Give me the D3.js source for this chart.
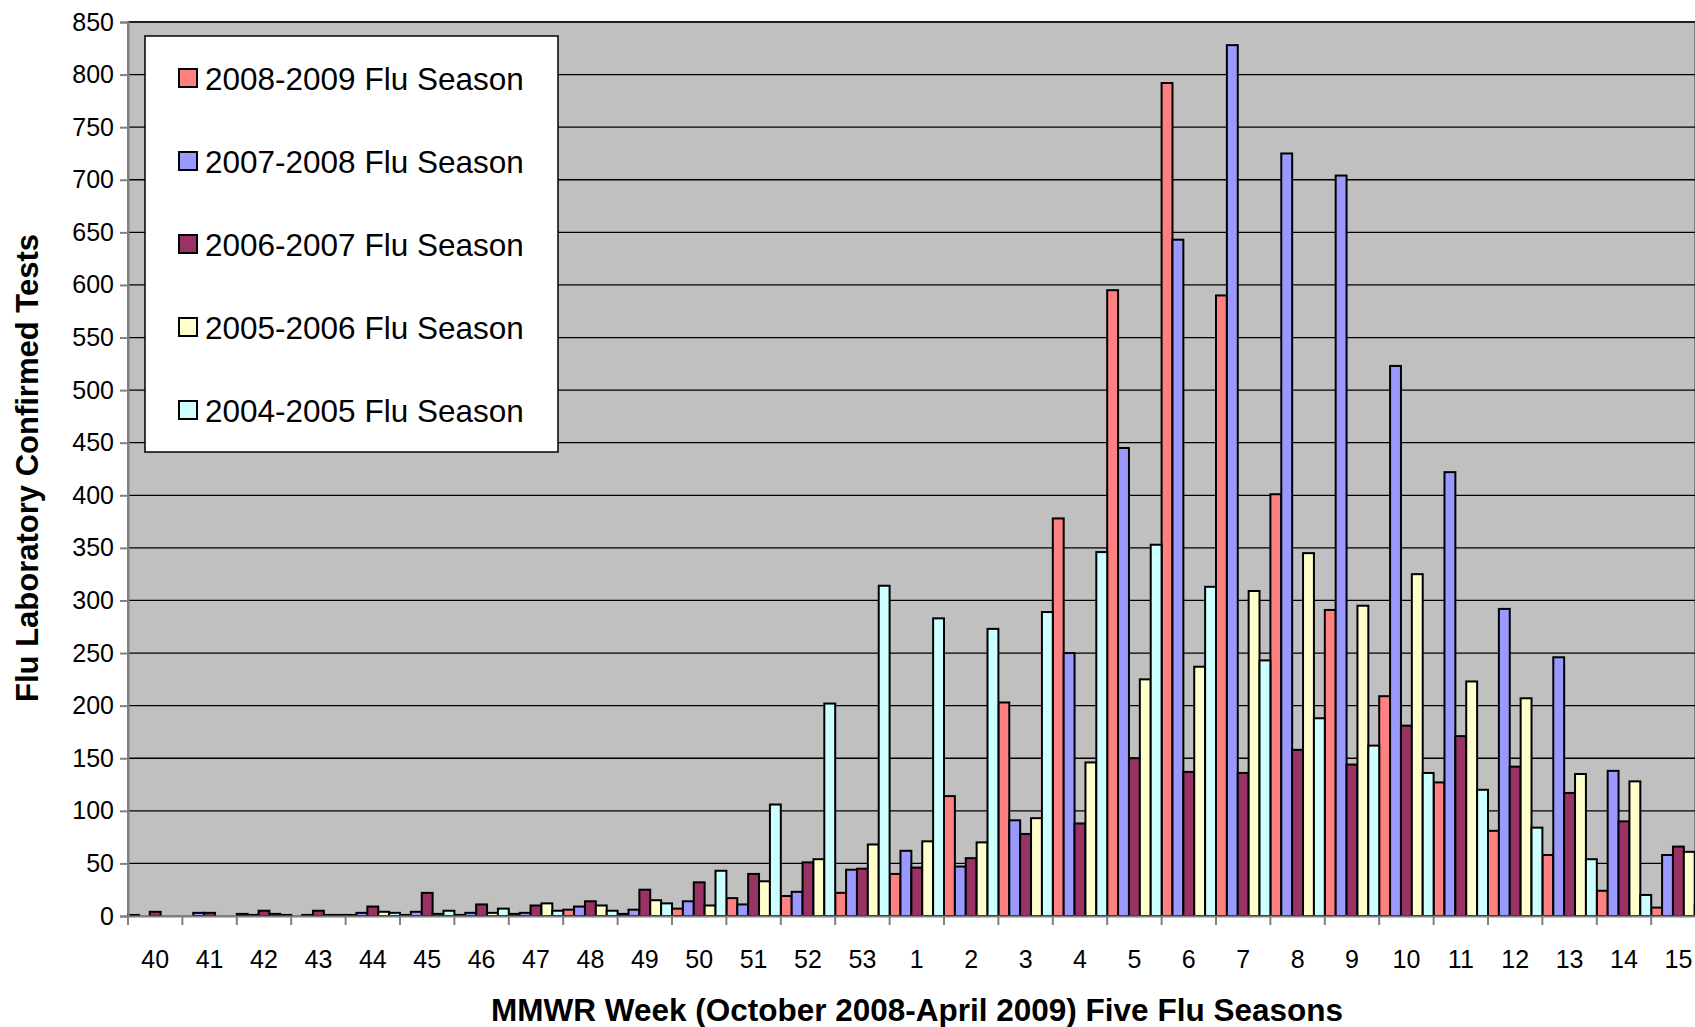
<!DOCTYPE html>
<html><head><meta charset="utf-8">
<script src="https://cdn.jsdelivr.net/npm/d3@7"></script>
<style>body{margin:0;background:#fff;overflow:hidden}text{font-family:"Liberation Sans",Arial,sans-serif}</style>
</head><body>
<script>
const weeks = ["40","41","42","43","44","45","46","47","48","49","50","51","52","53","1","2","3","4","5","6","7","8","9","10","11","12","13","14","15"]
const seasons = ["2008-2009 Flu Season","2007-2008 Flu Season","2006-2007 Flu Season","2005-2006 Flu Season","2004-2005 Flu Season"]
const colors = ["#ff8080","#9999ff","#993366","#ffffcc","#ccffff"]
const s0809 = [1,0,2,0,1,1,1,2,6,2,7,17,19,22,40,114,203,378,595,792,590,401,291,209,127,81,58,24,8]
const s0708 = [0,3,1,1,3,4,3,3,9,6,14,11,23,44,62,47,91,250,445,643,828,725,704,523,422,292,246,138,58]
const s0607 = [4,3,5,5,9,22,11,10,14,25,32,40,51,45,46,55,78,88,150,137,136,158,144,181,171,142,117,90,66]
const s0506 = [0,0,2,1,4,2,3,12,10,15,10,33,54,68,71,70,93,146,225,237,309,345,295,325,223,207,135,128,61]
const s0405 = [0,0,1,1,3,5,7,5,5,12,43,106,202,314,283,273,289,346,353,313,243,188,162,136,120,84,54,20,10]
const series = [s0809, s0708, s0607, s0506, s0405]

const W = 1695, H = 1027
const pLeft = 128, pTop = 22, pBottom = 916, band = 54.4
const svg = d3.select("body").append("svg").attr("width", W).attr("height", H)

const x = d3.scaleBand().domain(weeks).range([pLeft, pLeft + band * weeks.length]).padding(0)
const sub = d3.scaleBand().domain(d3.range(5)).range([0, band]).padding(0)
const y = d3.scaleLinear().domain([0, 850]).range([pBottom, pTop])

svg.append("rect").attr("x", pLeft).attr("y", pTop).attr("width", W - pLeft).attr("height", pBottom - pTop)
    .attr("fill", "#c0c0c0").attr("stroke", "#808080").attr("stroke-width", 2)

svg.append("g").selectAll("line").data(y.ticks(17).filter(d => d > 0))
    .enter().append("line")
    .attr("x1", pLeft).attr("x2", W).attr("y1", d => y(d)).attr("y2", d => y(d))
    .attr("stroke", "#000").attr("stroke-width", 1.3)

series.forEach((vals, i) => {
    svg.append("g").selectAll("rect").data(vals).enter().append("rect")
        .attr("x", (d, j) => x(weeks[j]) + sub(i))
        .attr("y", d => y(d))
        .attr("width", sub.bandwidth())
        .attr("height", d => pBottom - y(d))
        .attr("fill", colors[i]).attr("stroke", "#000").attr("stroke-width", 2)
})

// y axis
const ya = svg.append("g").attr("transform", `translate(${pLeft},0)`)
    .call(d3.axisLeft(y).ticks(17).tickSize(8).tickPadding(6))
ya.select(".domain").attr("stroke", "#808080").attr("stroke-width", 2)
ya.selectAll("line").attr("stroke", "#808080").attr("stroke-width", 2)
ya.selectAll("text").attr("font-size", 25).attr("fill", "#000").attr("font-family", "Liberation Sans, Arial")

// x axis
const xa = svg.append("g").attr("transform", `translate(0,${pBottom})`)
    .call(d3.axisBottom(x).tickSize(0).tickPadding(34))
xa.select(".domain").attr("stroke", "#808080").attr("stroke-width", 2)
xa.selectAll("text").attr("font-size", 25).attr("fill", "#000").attr("font-family", "Liberation Sans, Arial")
svg.append("g").selectAll("line").data(weeks).enter().append("line")
    .attr("x1", d => x(d)).attr("x2", d => x(d)).attr("y1", pBottom).attr("y2", pBottom + 9)
    .attr("stroke", "#808080").attr("stroke-width", 2)

svg.append("text").attr("x", 917).attr("y", 1021).attr("text-anchor", "middle")
    .attr("font-size", 31.5).attr("font-weight", "bold").text("MMWR Week (October 2008-April 2009) Five Flu Seasons")
svg.append("text").attr("transform", "translate(38,468) rotate(-90)").attr("text-anchor", "middle")
    .attr("font-size", 31).attr("font-weight", "bold").text("Flu Laboratory Confirmed Tests")

// legend
const lg = svg.append("g")
lg.append("rect").attr("x", 145).attr("y", 36).attr("width", 413).attr("height", 416)
    .attr("fill", "#fff").attr("stroke", "#000").attr("stroke-width", 1.5)
seasons.forEach((s, i) => {
    const yy = 79 + i * 83
    lg.append("rect").attr("x", 179).attr("y", yy - 10).attr("width", 18).attr("height", 18)
        .attr("fill", colors[i]).attr("stroke", "#000").attr("stroke-width", 2)
    lg.append("text").attr("x", 205).attr("y", yy + 11).attr("font-size", 31.5).text(s)
})
</script>
</body></html>
